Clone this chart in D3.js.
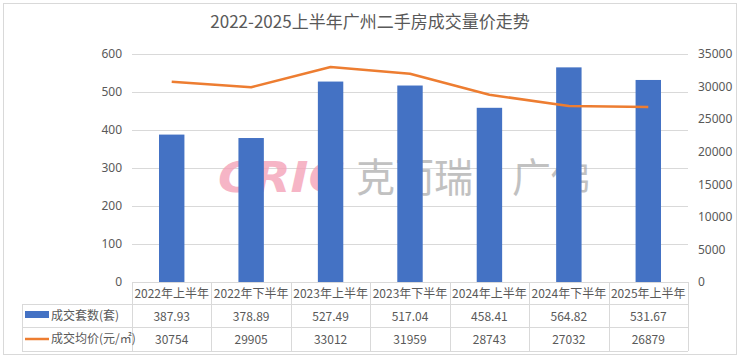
<!DOCTYPE html>
<html><head><meta charset="utf-8">
<script src="https://cdn.jsdelivr.net/npm/d3@7/dist/d3.min.js"></script>
<style>body{margin:0;background:#fff;} svg{display:block;font-family:"Microsoft YaHei","Noto Sans CJK SC",sans-serif;}</style>
</head><body>
<svg id="c" width="740" height="357"></svg>
<script>
const categories = ["2022年上半年","2022年下半年","2023年上半年","2023年下半年","2024年上半年","2024年下半年","2025年上半年"];
const volume = [387.93, 378.89, 527.49, 517.04, 458.41, 564.82, 531.67];
const volumeLabels = ["387.93","378.89","527.49","517.04","458.41","564.82","531.67"];
const price = [30754, 29905, 33012, 31959, 28743, 27032, 26879];
const leftTicks = [0,100,200,300,400,500,600];
const rightTicks = [0,5000,10000,15000,20000,25000,30000,35000];
const seriesNames = ["成交套数(套)","成交均价(元/㎡)"];
const title = "2022-2025上半年广州二手房成交量价走势";

const svg = d3.select("#c");
const x0=132,x1=688,yTop=54,yBot=282;
const txt="#595959", grid="#d9d9d9", blue="#4472c4", orange="#ed7d31";

svg.append("rect").attr("x",3.5).attr("y",3.5).attr("width",733).attr("height",351).attr("fill","#fff").attr("stroke","#d9d9d9");

svg.append("text").attr("x",370).attr("y",28).attr("text-anchor","middle").attr("font-size",17).attr("fill",txt).text(title);

const x = d3.scaleBand().domain(categories).range([x0,x1]).paddingInner(0.68).paddingOuter(0.34);
const xc = d3.scaleBand().domain(categories).range([x0,x1]);
const yL = d3.scaleLinear().domain([0,600]).range([yBot,yTop]);
const yR = d3.scaleLinear().domain([0,35000]).range([yBot,yTop]);

// gridlines
svg.append("g").selectAll("line").data(leftTicks).join("line")
  .attr("x1",x0).attr("x2",x1).attr("y1",d=>Math.round(yL(d))+0.5).attr("y2",d=>Math.round(yL(d))+0.5)
  .attr("stroke",grid).attr("stroke-width",1);

// left axis
const la = svg.append("g").attr("transform",`translate(${x0-10},0)`).call(d3.axisLeft(yL).tickValues(leftTicks).tickSize(0).tickPadding(0).tickFormat(d3.format("d")));
la.select(".domain").remove();
la.selectAll("text").attr("fill",txt).attr("font-size",12).attr("font-family","'Noto Sans','Open Sans',sans-serif");
// right axis
const ra = svg.append("g").attr("transform",`translate(${x1+10},0)`).call(d3.axisRight(yR).tickValues(rightTicks).tickSize(0).tickPadding(0).tickFormat(d3.format("d")));
ra.select(".domain").remove();
ra.selectAll("text").attr("fill",txt).attr("font-size",12).attr("font-family","'Noto Sans','Open Sans',sans-serif");

// watermark
const wm = svg.append("g");
wm.append("text").attr("x",218).attr("y",192).attr("font-size",42).attr("font-weight","bold").attr("font-style","italic")
  .attr("font-family","'DejaVu Sans',sans-serif").attr("fill","#f5a3b8").attr("opacity",0.8)
  .attr("textLength",126).attr("lengthAdjust","spacingAndGlyphs").text("CRIC");
wm.append("text").attr("x",356).attr("y",192).attr("font-size",40).attr("fill","#a8a8a8").attr("opacity",0.7)
  .attr("textLength",234).attr("lengthAdjust","spacingAndGlyphs").text("克而瑞·广佛");

// bars
svg.append("g").selectAll("rect").data(volume).join("rect")
  .attr("x",(d,i)=>x(categories[i])).attr("width",x.bandwidth())
  .attr("y",d=>yL(d)).attr("height",d=>yBot-yL(d)).attr("fill",blue);

// line
const line = d3.line().x((d,i)=>xc(categories[i])+xc.bandwidth()/2).y(d=>yR(d));
svg.append("path").datum(price).attr("d",line).attr("fill","none").attr("stroke",orange).attr("stroke-width",2.5).attr("stroke-linejoin","round");

// data table
const rows=[282,304,327,351];
const tl = svg.append("g").attr("stroke","#d9d9d9").attr("stroke-width",1);
tl.append("line").attr("x1",x0).attr("x2",x1).attr("y1",rows[0]+0.5).attr("y2",rows[0]+0.5);
[1,2,3].forEach(r=>tl.append("line").attr("x1",22).attr("x2",x1).attr("y1",rows[r]+0.5).attr("y2",rows[r]+0.5));
tl.append("line").attr("x1",22.5).attr("x2",22.5).attr("y1",rows[1]).attr("y2",rows[3]);
d3.range(categories.length+1).forEach(i=>{
  const xx = i<categories.length? xc(categories[i]) : x1;
  tl.append("line").attr("x1",Math.round(xx)+0.5).attr("x2",Math.round(xx)+0.5).attr("y1",rows[0]).attr("y2",rows[3]);
});
const tt = svg.append("g").attr("fill",txt).attr("font-size",12).attr("text-anchor","middle");
categories.forEach((c,i)=>{
  const cx = xc(c)+xc.bandwidth()/2;
  tt.append("text").attr("x",cx).attr("y",298).text(c);
  tt.append("text").attr("x",cx).attr("y",321).text(volumeLabels[i]);
  tt.append("text").attr("x",cx).attr("y",344).text(String(price[i]));
});
// legend keys
svg.append("rect").attr("x",25).attr("y",311).attr("width",24).attr("height",7).attr("fill",blue);
svg.append("line").attr("x1",25).attr("x2",49).attr("y1",339).attr("y2",339).attr("stroke",orange).attr("stroke-width",2.5);
svg.append("text").attr("x",51).attr("y",320).attr("font-size",12).attr("fill",txt).text(seriesNames[0]);
svg.append("text").attr("x",51).attr("y",343).attr("font-size",12).attr("fill",txt).text(seriesNames[1]);
</script>
</body></html>
